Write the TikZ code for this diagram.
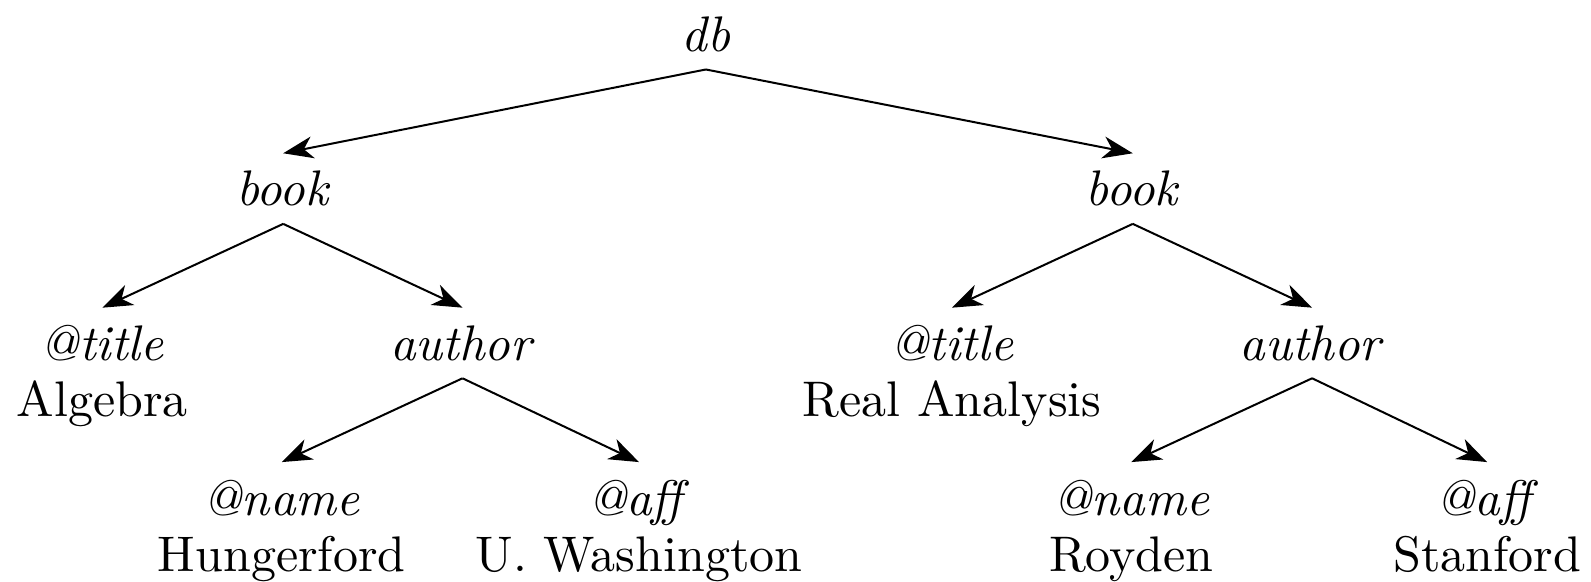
\documentclass[tikz,border=0pt]{standalone}
\usetikzlibrary{arrows.meta}
\begin{document}
\begin{tikzpicture}
		\tikzstyle{every node} = [anchor=north, align=center, font=\fontsize{10pt}{11.2pt}\selectfont]
		\tikzstyle{edgearrow} = [line width=0.4pt, -{Stealth[length=6pt, width=4.4pt, inset=1.8pt]}]
		\useasboundingbox (0, -0.008) rectangle (11.18, -4.091);
		\node (db) at (4.96, 0) {\textit{db}};
		\node (b1) at (1.99, -1.085) {\textit{book}};
		\node (b2) at (7.96, -1.085) {\textit{book}};
		\node (t1) at (0.72, -2.17) {\textit{@title}\\Algebra};
		\node (a1) at (3.25, -2.17) {\textit{author}};
		\node (t2) at (6.69, -2.17) {\textit{@title}\\Real Analysis};
		\node (a2) at (9.22, -2.17) {\textit{author}};
		\node (n1) at (1.98, -3.255) {\textit{@name}\\Hungerford};
		\node (f1) at (4.49, -3.255) {\textit{@aff}\\U. Washington};
		\node (n2) at (7.95, -3.255) {\textit{@name}\\Royden};
		\node (f2) at (10.45, -3.255) {\textit{@aff}\\Stanford};
		\draw [edgearrow] (db.south) -- (b1.north);
		\draw [edgearrow] (db.south) -- (b2.north);
		\draw [edgearrow] (b1.south) -- (t1.north);
		\draw [edgearrow] (b1.south) -- (a1.north);
		\draw [edgearrow] (b2.south) -- (t2.north);
		\draw [edgearrow] (b2.south) -- (a2.north);
		\draw [edgearrow] (a1.south) -- (n1.north);
		\draw [edgearrow] (a1.south) -- (f1.north);
		\draw [edgearrow] (a2.south) -- (n2.north);
		\draw [edgearrow] (a2.south) -- (f2.north);
	\end{tikzpicture}
\end{document}
